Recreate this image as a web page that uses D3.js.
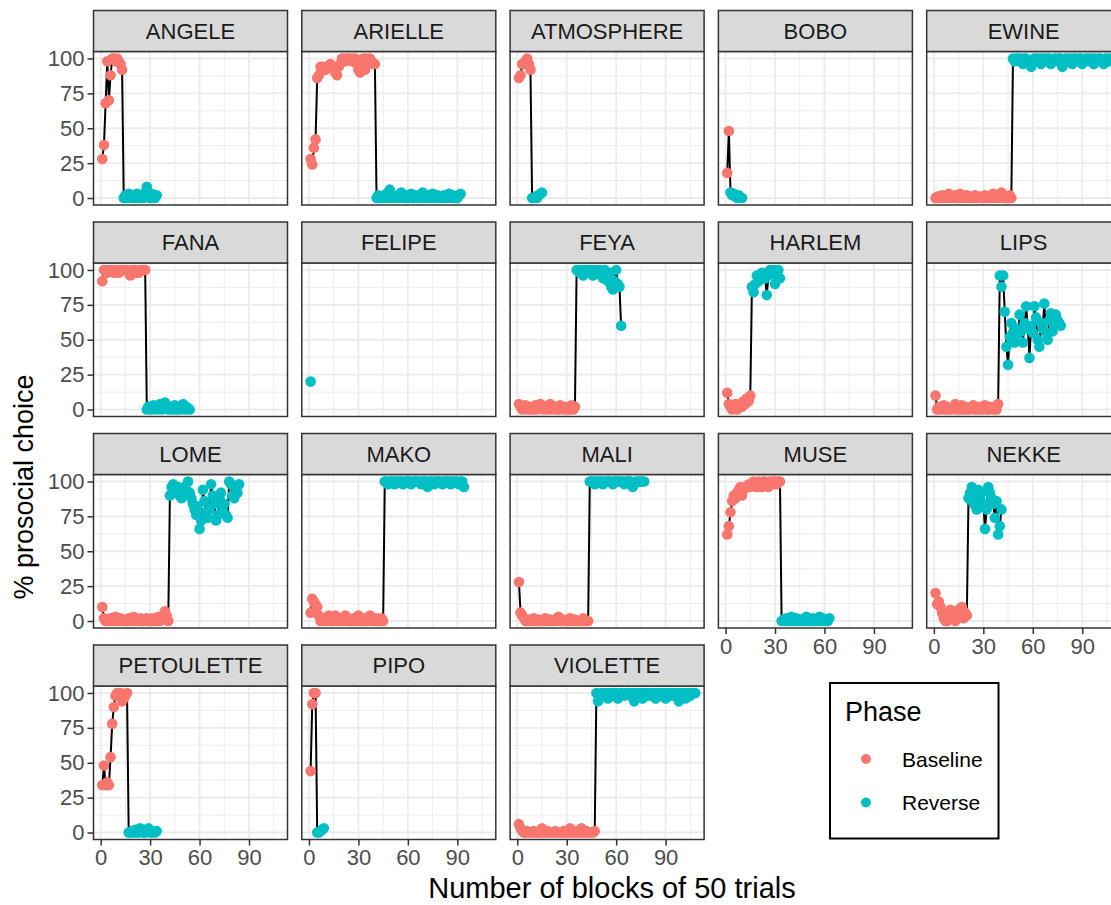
<!DOCTYPE html>
<html>
<head>
<meta charset="utf-8">
<script src="https://cdn.jsdelivr.net/npm/d3@7"></script>
<style>
  body { margin: 0; background: #fff; }
  svg text { font-family: "Liberation Sans", Arial, sans-serif; }
</style>
</head>
<body>
<svg id="chart" width="1111" height="905"></svg>
<script>

// facet names, in plotting order
const subjects = ["ANGELE", "ARIELLE", "ATMOSPHERE", "BOBO", "EWINE",
                  "FANA", "FELIPE", "FEYA", "HARLEM", "LIPS",
                  "LOME", "MAKO", "MALI", "MUSE", "NEKKE",
                  "PETOULETTE", "PIPO", "VIOLETTE"];

// % prosocial choice per block, baseline blocks first then reverse blocks
const ANGELE_base = [28, 38, 68, 98, 70, 88, 100, 100, 98, 100, 98, 96, 92];
const ANGELE_rev = [0, 2, 0, 3, 1, 0, 2, 0, 3, 0, 1, 2, 0, 4, 8, 2, 0, 3, 1, 0, 2];

const ARIELLE_base = [28, 24, 36, 42, 86, 88, 94, 94, 94, 92, 94, 94, 96, 94, 94, 90, 88, 94, 96, 100,
                      100, 98, 100, 100, 100, 98, 100, 100, 96, 92, 90, 94, 100, 92, 100, 98, 100, 98, 96, 96];
const ARIELLE_rev = [0, 2, 0, 1, 0, 2, 3, 0, 6, 2, 0, 1, 0, 2, 0, 4, 1, 0, 2, 0,
                     1, 3, 0, 0, 2, 1, 0, 2, 4, 0, 1, 2, 0, 0, 3, 1, 0, 2, 0, 1,
                     0, 2, 0, 1, 3, 0, 2, 0, 1, 0, 2, 3];

const ATMOSPHERE_base = [86, 88, 96, 96, 98, 100, 96, 92];
const ATMOSPHERE_rev = [0, 0, 1, 0, 2, 3, 4];

const BOBO_base = [18, 48];
const BOBO_rev = [4, 2, 3, 1, 0, 2, 0, 0];

const EWINE_base = [0, 1, 0, 0, 2, 0, 1, 0, 3, 0, 0, 1, 2, 0, 0, 3, 0, 1, 0, 2,
                    0, 0, 1, 0, 2, 0, 0, 1, 0, 0, 2, 0, 1, 0, 0, 3, 0, 1, 0, 2,
                    4, 0, 1, 0, 0, 2, 0];
const EWINE_rev = [100, 98, 100, 100, 98, 100, 96, 100, 100, 98, 96, 94, 98, 100, 100, 98, 100, 96, 100, 100,
                   98, 100, 100, 96, 98, 100, 100, 98, 100, 100, 94, 98, 100, 100, 98, 100, 96, 100, 100, 98,
                   100, 100, 96, 98, 100, 100, 98, 100, 100, 96, 100, 98, 100, 100, 98, 96, 100, 100, 98, 100];

const FANA_base = [92, 100, 100, 98, 100, 100, 100, 98, 100, 100, 98, 100, 100, 100, 100, 100, 98, 96, 100, 100,
                   100, 98, 98, 100, 100, 100, 100];
const FANA_rev = [0, 2, 1, 0, 3, 2, 0, 1, 4, 0, 2, 5, 1, 0, 2, 0, 1, 3, 0, 2, 0, 1, 4, 0, 2, 1, 0];

const FELIPE_base = [];
const FELIPE_rev = [20];

const FEYA_base = [4, 2, 0, 1, 3, 0, 2, 0, 1, 0, 3, 0, 2, 4, 1, 0, 2, 0, 3, 4,
                   0, 1, 2, 0, 0, 3, 1, 0, 2, 0, 1, 0, 3, 0, 2];
const FEYA_rev = [100, 100, 98, 100, 96, 100, 98, 100, 100, 98, 96, 100, 100, 98, 100, 98, 94, 100, 96, 92,
                  98, 88, 86, 92, 100, 90, 88, 60];

const HARLEM_base = [12, 4, 2, 0, 2, 4, 0, 2, 4, 2, 6, 4, 8, 6, 10];
const HARLEM_rev = [88, 84, 90, 96, 92, 94, 98, 96, 94, 82, 96, 100, 98, 100, 90, 96, 100, 94];

const LIPS_base = [10, 0, 2, 0, 1, 3, 0, 2, 0, 1, 0, 2, 4, 0, 1, 0, 3, 0, 2, 0,
                   1, 0, 2, 3, 0, 1, 0, 2, 0, 1, 3, 0, 0, 2, 1, 0, 2, 0, 4];
const LIPS_rev = [96, 88, 96, 70, 45, 32, 52, 62, 55, 48, 58, 50, 68, 56, 48, 62, 74, 58, 37, 60,
                  55, 74, 66, 50, 45, 62, 58, 76, 55, 50, 64, 69, 56, 60, 68, 64, 62, 60];

const LOME_base = [10, 2, 0, 1, 0, 2, 0, 1, 3, 0, 0, 2, 0, 1, 0, 0, 2, 1, 0, 3,
                   0, 1, 0, 2, 0, 0, 1, 2, 0, 0, 2, 0, 1, 0, 3, 0, 2, 1, 7, 4, 0];
const LOME_rev = [90, 96, 98, 94, 92, 96, 90, 88, 92, 96, 94, 100, 92, 88, 84, 80, 76, 82, 66, 72,
                  94, 86, 78, 74, 80, 98, 90, 84, 72, 76, 88, 92, 80, 84, 76, 74, 100, 98, 90, 88,
                  96, 92, 98];

const MAKO_base = [6, 16, 14, 12, 10, 4, 0, 2, 0, 0, 2, 4, 0, 2, 0, 4, 2, 0, 0, 2,
                   0, 4, 0, 2, 0, 0, 2, 0, 0, 4, 2, 0, 0, 2, 0, 0, 4, 2, 0, 0,
                   2, 0, 0, 2, 0];
const MAKO_rev = [100, 100, 98, 100, 100, 100, 98, 100, 100, 100, 100, 98, 100, 100, 100, 100, 98, 100, 100, 100,
                  100, 100, 98, 100, 100, 100, 96, 100, 100, 100, 98, 100, 100, 100, 100, 98, 100, 100, 100, 100,
                  98, 100, 100, 100, 100, 98, 100, 100, 96];

const MALI_base = [28, 6, 4, 2, 0, 0, 1, 0, 0, 2, 0, 0, 1, 0, 0, 0, 2, 0, 0, 1,
                   0, 0, 0, 2, 3, 0, 0, 1, 0, 0, 0, 2, 0, 0, 1, 0, 0, 0, 0, 2,
                   0, 0, 0];
const MALI_rev = [100, 100, 100, 98, 100, 100, 100, 100, 98, 100, 100, 100, 100, 100, 98, 100, 100, 100, 100, 100,
                  100, 98, 100, 100, 100, 100, 96, 98, 100, 100, 100, 100, 100, 100];

const MUSE_base = [62, 68, 78, 86, 90, 88, 92, 94, 96, 90, 94, 96, 96, 98, 96, 98, 100, 98, 96, 100,
                   98, 96, 100, 100, 98, 96, 100, 98, 100, 100, 98, 100, 100];
const MUSE_rev = [0, 1, 0, 2, 0, 0, 3, 1, 0, 2, 0, 1, 0, 0, 2, 3, 0, 1, 0, 2,
                  0, 0, 1, 3, 0, 2, 0, 1, 0, 2];

const NEKKE_base = [20, 12, 14, 10, 6, 2, 0, 0, 4, 8, 2, 6, 0, 2, 8, 4, 10, 2, 6, 4];
const NEKKE_rev = [88, 92, 96, 84, 90, 80, 94, 88, 92, 84, 66, 80, 96, 92, 88, 84, 74, 86, 62, 68, 80];

const PETOULETTE_base = [34, 48, 34, 36, 34, 54, 78, 90, 98, 100, 98, 100, 94, 96, 98, 100];
const PETOULETTE_rev = [0, 0, 1, 0, 2, 0, 0, 3, 1, 0, 0, 2, 3, 0, 1, 0, 0, 1];

const PIPO_base = [44, 92, 100, 100];
const PIPO_rev = [0, 0, 1, 2, 3];

const VIOLETTE_base = [6, 3, 1, 0, 0, 1, 0, 0, 0, 1, 0, 0, 0, 0, 3, 0, 0, 1, 0, 0,
                       0, 0, 1, 0, 0, 0, 0, 1, 0, 0, 0, 3, 0, 0, 0, 1, 0, 0, 3, 0,
                       0, 1, 0, 0, 0, 0, 1];
const VIOLETTE_rev = [100, 94, 98, 100, 100, 98, 100, 96, 100, 100, 98, 100, 100, 96, 98, 100, 100, 98, 100, 100,
                      100, 98, 100, 94, 100, 98, 100, 100, 96, 100, 100, 98, 100, 100, 98, 100, 96, 100, 100, 98,
                      100, 100, 96, 98, 100, 100, 98, 100, 100, 100, 94, 100, 98, 100, 96, 100, 100, 98, 100, 100, 100];

const baselineValues = [ANGELE_base, ARIELLE_base, ATMOSPHERE_base, BOBO_base, EWINE_base,
                        FANA_base, FELIPE_base, FEYA_base, HARLEM_base, LIPS_base,
                        LOME_base, MAKO_base, MALI_base, MUSE_base, NEKKE_base,
                        PETOULETTE_base, PIPO_base, VIOLETTE_base];
const reverseValues = [ANGELE_rev, ARIELLE_rev, ATMOSPHERE_rev, BOBO_rev, EWINE_rev,
                       FANA_rev, FELIPE_rev, FEYA_rev, HARLEM_rev, LIPS_rev,
                       LOME_rev, MAKO_rev, MALI_rev, MUSE_rev, NEKKE_rev,
                       PETOULETTE_rev, PIPO_rev, VIOLETTE_rev];

const phases = ["Baseline", "Reverse"];
const xTicks = [0, 30, 60, 90];
const yTicks = [0, 25, 50, 75, 100];

// layout
const ncol = 5,
      panelW = 194,
      panelH = 153.5,
      stripH = 41,
      colStep = 208.3,
      rowStep = 211.5,
      left0 = 93.5,
      top0 = 51.5;

const svg = d3.select("#chart");
svg.append("rect").attr("width", 1111).attr("height", 905).attr("fill", "#fff");

// build one point list per facet, block number runs on across the phases
const facets = subjects.map(function (name, i) {
    const b = baselineValues[i], r = reverseValues[i];
    const pts = b.map((v, k) => ({x: k + 1, y: v, phase: "Baseline"}))
        .concat(r.map((v, k) => ({x: b.length + k + 1, y: v, phase: "Reverse"})));
    return {name: name, pts: pts, col: i % ncol, row: Math.floor(i / ncol)};
});

const allX = d3.extent(facets.flatMap(f => f.pts), d => d.x);
const padX = (allX[1] - allX[0]) * 0.05;

const x = d3.scaleLinear().domain([allX[0] - padX, allX[1] + padX]).range([0, panelW]);
const y = d3.scaleLinear().domain([-5, 105]).range([panelH, 0]);
const color = d3.scaleOrdinal().domain(phases).range(["#F8766D", "#00BFC4"]);

const xMinor = d3.range(15, 120, 30);
const yMinor = d3.range(12.5, 100, 25);

const line = d3.line().x(d => x(d.x)).y(d => y(d.y));

// last row that has a panel in each column gets the x axis
function bottomRow(c) {
    return d3.max(facets.filter(f => f.col === c), f => f.row);
}

function styleAxis(a) {
    a.select(".domain").remove();
    a.selectAll("line").attr("stroke", "#333").attr("stroke-width", 1.5);
    a.selectAll("text").attr("font-size", 22).attr("fill", "#4D4D4D")
        .attr("font-family", "Liberation Sans, Arial, sans-serif");
}

facets.forEach(function (f) {
    const px = left0 + f.col * colStep,
          py = top0 + f.row * rowStep;
    const g = svg.append("g").attr("transform", "translate(" + px + "," + py + ")");

    g.append("rect").attr("width", panelW).attr("height", panelH).attr("fill", "#fff");

    //grid
    g.selectAll(".xminor").data(xMinor).enter().append("line")
        .attr("x1", d => x(d)).attr("x2", d => x(d)).attr("y1", 0).attr("y2", panelH)
        .attr("stroke", "#EBEBEB").attr("stroke-width", 0.9);
    g.selectAll(".yminor").data(yMinor).enter().append("line")
        .attr("y1", d => y(d)).attr("y2", d => y(d)).attr("x1", 0).attr("x2", panelW)
        .attr("stroke", "#EBEBEB").attr("stroke-width", 0.9);
    g.selectAll(".xmajor").data(xTicks).enter().append("line")
        .attr("x1", d => x(d)).attr("x2", d => x(d)).attr("y1", 0).attr("y2", panelH)
        .attr("stroke", "#EBEBEB").attr("stroke-width", 1.8);
    g.selectAll(".ymajor").data(yTicks).enter().append("line")
        .attr("y1", d => y(d)).attr("y2", d => y(d)).attr("x1", 0).attr("x2", panelW)
        .attr("stroke", "#EBEBEB").attr("stroke-width", 1.8);

    // line under the points
    g.append("path").datum(f.pts).attr("d", line)
        .attr("fill", "none").attr("stroke", "#000").attr("stroke-width", 2);

    g.selectAll("circle").data(f.pts).enter().append("circle")
        .attr("cx", d => x(d.x)).attr("cy", d => y(d.y)).attr("r", 5.3)
        .attr("fill", d => color(d.phase));

    g.append("rect").attr("width", panelW).attr("height", panelH)
        .attr("fill", "none").attr("stroke", "#333").attr("stroke-width", 1.5);

    // strip
    g.append("rect").attr("x", 0).attr("y", -stripH).attr("width", panelW).attr("height", stripH)
        .attr("fill", "#D9D9D9").attr("stroke", "#333").attr("stroke-width", 1.5);
    g.append("text").attr("x", panelW / 2).attr("y", -stripH / 2)
        .attr("text-anchor", "middle").attr("dominant-baseline", "central")
        .attr("font-size", 22).attr("fill", "#1A1A1A").text(f.name);

    if (f.col === 0) {
        g.append("g").call(d3.axisLeft(y).tickValues(yTicks).tickSize(6).tickPadding(3))
            .call(styleAxis);
    }
    if (f.row === bottomRow(f.col)) {
        g.append("g").attr("transform", "translate(0," + panelH + ")")
            .call(d3.axisBottom(x).tickValues(xTicks).tickSize(6).tickPadding(4))
            .call(styleAxis);
    }
});

// axis titles
svg.append("text")
    .attr("x", 612).attr("y", 898)
    .attr("text-anchor", "middle").attr("font-size", 29).attr("fill", "#000")
    .text("Number of blocks of 50 trials");
svg.append("text")
    .attr("transform", "translate(33,487) rotate(-90)")
    .attr("text-anchor", "middle").attr("font-size", 27).attr("fill", "#000")
    .text("% prosocial choice");

// legend
const lg = svg.append("g").attr("transform", "translate(830,683)");
lg.append("rect").attr("width", 168.5).attr("height", 155.5)
    .attr("fill", "#fff").attr("stroke", "#000").attr("stroke-width", 2);
lg.append("text").attr("x", 15).attr("y", 38).attr("font-size", 27).attr("fill", "#000").text("Phase");
const items = lg.selectAll(".item").data(phases).enter().append("g")
    .attr("transform", (d, i) => "translate(0," + (76 + i * 43.5) + ")");
items.append("circle").attr("cx", 36).attr("cy", 0).attr("r", 5).attr("fill", d => color(d));
items.append("text").attr("x", 72).attr("y", 0).attr("dominant-baseline", "central")
    .attr("font-size", 21).attr("fill", "#000").text(d => d);

</script>
</body>
</html>
